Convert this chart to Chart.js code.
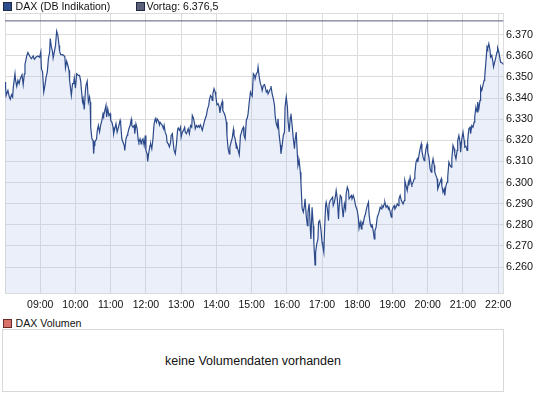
<!DOCTYPE html>
<html><head><meta charset="utf-8">
<script src="https://cdn.jsdelivr.net/npm/chart.js@4.4.0/dist/chart.umd.min.js"></script>
<style>
html,body{margin:0;padding:0;background:#fff;}
body{width:545px;height:398px;position:relative;overflow:hidden;font-family:"Liberation Sans",Arial,sans-serif;color:#111;}
#wrap{position:absolute;left:0;top:0;width:545px;height:316px;}
.leg{position:absolute;font-size:10.6px;line-height:12px;white-space:nowrap;color:#111;}
.sq{position:absolute;width:9px;height:9px;box-sizing:border-box;border:1px solid #1e2a44;}
#volbox{position:absolute;left:2px;top:329px;width:502px;height:63px;box-sizing:border-box;border:1px solid #d8d8d8;display:flex;align-items:center;justify-content:center;}
#volmsg{font-size:12.5px;color:#111;}
</style></head>
<body>
<div id="wrap"><canvas id="c" width="545" height="316"></canvas></div>
<div class="sq" style="left:3px;top:2px;background:#2e4d8e;"></div>
<div class="leg" id="legDax" style="left:15.5px;top:0px;"></div>
<div class="sq" style="left:135.5px;top:2px;background:#5c6079;"></div>
<div class="leg" id="legPrev" style="left:146.5px;top:0px;"></div>
<div class="sq" style="left:3px;top:319px;background:#d9716b;border-color:#6a2a26;"></div>
<div class="leg" id="legVol" style="left:15.5px;top:317px;"></div>
<div id="volbox"><span id="volmsg"></span></div>
<script>
const seriesName = 'DAX (DB Indikation)';
const volumeName = 'DAX Volumen';
const volumeMessage = 'keine Volumendaten vorhanden';
const previousClose = 6376.5;
const xTickLabels = ['09:00','10:00','11:00','12:00','13:00','14:00','15:00','16:00','17:00','18:00','19:00','20:00','21:00','22:00'];
const yTickValues = [6260,6270,6280,6290,6300,6310,6320,6330,6340,6350,6360,6370];
const yMin = 6247.5, yMax = 6380;

// time of each quote, minutes after midnight
const minutes = [
480,481,482,485,487,489,491,493,494,497,498,500,502,504,506,509,511,513,514,517,519,522,525,528,530,533,536,539,541,542,
544,546,548,550,552,554,556,557,559,561,562,564,566,568,570,572,573,575,577,580,582,583,585,587,589,590,592,593,595,597,
598,600,602,605,607,609,610,612,613,615,617,618,620,622,624,625,626,628,630,631,632,633,636,637,639,641,643,645,647,648,
650,652,653,655,657,659,660,662,664,665,667,669,671,672,674,676,677,679,681,683,684,686,688,689,691,693,695,696,698,700,
701,703,705,707,708,710,712,713,715,717,719,720,722,723,725,727,728,730,732,733,734,736,738,739,741,743,744,746,748,750,
751,753,755,756,758,760,762,763,765,767,768,770,772,774,775,777,779,780,782,784,786,787,789,791,792,794,796,798,799,801,
803,804,806,808,810,811,813,815,816,818,820,822,823,825,827,828,830,832,833,834,836,838,839,841,843,845,846,848,850,851,
853,855,857,858,860,862,863,865,867,869,870,872,874,875,877,879,881,882,884,886,887,889,891,893,894,896,898,899,
901,903,905,906,908,910,911,913,915,917,918,920,922,923,925,927,928,930,932,933,935,937,939,940,942,944,945,947,949,950,
952,954,956,957,959,961,962,964,966,967,969,971,973,974,976,978,979,981,983,984,986,988,990,991,993,995,996,998,1000,1001,
1003,1005,1006,1008,1009,1011,1013,1014,1016,1018,1020,1021,1023,1024,1026,1027,1029,1031,1032,1034,1036,1038,1039,1041,1043,1044,1046,1048,1049,1051,
1053,1054,1056,1058,1060,1061,1063,1065,1066,1068,1070,1071,1073,1075,1077,1078,1080,1082,1083,1085,1087,1088,1090,1092,1094,1095,1097,1099,1100,1102,
1104,1105,1107,1109,1110,1112,1114,1116,1117,1119,1121,1122,1124,1126,1127,1129,1131,1133,1134,1136,1138,1139,1141,1143,1144,1146,1148,1150,1151,1153,
1155,1156,1158,1160,1161,1163,1165,1167,1168,1170,1172,1173,1175,1177,1178,1180,1182,1183,1185,1187,1189,1190,1192,1194,1195,1197,1199,1200,1202,1204,
1206,1207,1209,1211,1212,1214,1216,1217,1219,1221,1223,1224,1226,1228,1229,1231,1233,1234,1236,1238,1240,1241,1243,1245,1246,1248,1250,1251,1253,1255,
1256,1258,1260,1262,1263,1265,1267,1268,1270,1272,1273,1275,1277,1279,1280,1282,1284,1285,1287,1289,1290,1292,1294,1296,1297,1299,1301,1302,1304,1306,
1307,1309,1311,1312,1314,1316,1318,1319,1321,1323,1324,1326,1328,1329
];
// DAX quotes
const prices = [
6347.6,6345.2,6341.2,6343.6,6340.9,6339.4,6341.6,6340.5,6344.7,6351.5,6348.4,6345.5,6348.4,6346.8,6349.1,6351.0,6346.3,6351.5,6355.8,6359.9,6361.5,6359.9,6358.6,6359.9,6358.3,6359.4,6359.9,6359.3,6361.8,6353.9,
6352.3,6342.8,6346.0,6349.9,6352.3,6358.9,6361.5,6368.1,6364.2,6361.8,6358.9,6361.8,6364.9,6371.7,6369.7,6364.9,6362.1,6360.5,6360.5,6360.2,6359.4,6354.2,6357.4,6355.5,6353.1,6348.4,6343.6,6341.2,6346.8,6346.8,
6349.5,6344.7,6351.5,6350.7,6350.7,6347.9,6344.4,6338.4,6339.7,6334.6,6343.6,6346.0,6347.9,6338.1,6340.5,6338.1,6326.2,6320.7,6319.9,6313.6,6317.6,6319.1,6320.7,6324.2,6327.0,6323.9,6327.3,6329.4,6332.6,6331.8,
6334.1,6336.5,6331.0,6334.9,6331.8,6332.6,6329.4,6328.6,6326.2,6323.1,6325.5,6327.8,6323.9,6323.9,6327.0,6329.4,6327.8,6320.7,6319.1,6317.6,6315.2,6320.7,6322.3,6323.1,6325.5,6327.0,6329.9,6327.0,6326.2,6327.0,
6323.1,6327.8,6325.5,6319.9,6319.1,6320.7,6318.3,6319.9,6320.7,6317.6,6322.3,6315.2,6313.6,6310.0,6314.4,6317.6,6318.3,6316.0,6320.7,6324.7,6327.8,6330.2,6328.6,6330.2,6329.4,6327.3,6328.6,6327.8,6327.0,6325.5,
6327.0,6323.6,6322.3,6319.1,6318.3,6316.8,6319.1,6322.3,6323.1,6317.6,6315.2,6313.6,6318.3,6325.1,6325.8,6324.7,6326.2,6321.5,6323.9,6324.7,6326.2,6323.9,6323.1,6324.7,6325.5,6323.1,6327.0,6326.2,6331.8,6330.5,
6327.8,6325.5,6327.0,6326.2,6327.0,6326.2,6327.3,6325.5,6324.7,6327.0,6329.4,6331.0,6331.8,6334.9,6336.5,6338.9,6341.2,6340.5,6338.9,6342.0,6344.4,6342.8,6341.2,6336.8,6337.3,6335.7,6333.0,6336.5,6338.4,6334.1,
6333.0,6331.5,6328.6,6322.3,6316.0,6313.6,6316.8,6319.1,6321.0,6325.1,6322.3,6320.7,6316.3,6317.2,6315.2,6313.1,6322.3,6323.1,6325.1,6326.2,6322.3,6320.7,6329.4,6331.0,6332.6,6338.1,6342.8,6342.0,
6340.9,6351.5,6350.7,6349.1,6351.5,6352.3,6354.7,6349.9,6346.8,6345.2,6343.6,6346.0,6346.3,6345.5,6342.8,6343.6,6342.0,6343.1,6344.4,6345.7,6342.0,6339.7,6336.5,6331.8,6327.8,6326.2,6330.2,6322.3,6317.6,6313.6,
6317.6,6322.3,6323.9,6335.7,6340.5,6335.7,6329.4,6323.9,6331.0,6332.6,6327.0,6320.7,6316.0,6319.9,6323.9,6312.8,6308.1,6310.4,6304.9,6300.2,6287.9,6286.0,6289.1,6292.3,6284.4,6279.6,6286.0,6289.9,6278.1,6273.3,
6288.3,6279.6,6271.7,6261.0,6267.0,6271.0,6273.3,6281.2,6282.0,6278.1,6271.7,6270.2,6267.0,6275.7,6289.1,6290.7,6287.5,6282.0,6289.9,6291.5,6292.3,6293.1,6289.1,6290.7,6293.9,6296.2,6292.3,6282.8,6288.3,6293.9,
6293.1,6289.1,6283.6,6289.9,6287.5,6294.6,6297.8,6296.2,6292.3,6293.1,6293.9,6292.3,6293.9,6292.3,6289.1,6288.3,6286.7,6282.8,6278.4,6281.2,6278.1,6281.2,6280.4,6283.6,6285.2,6286.7,6289.1,6290.7,6285.2,6280.4,
6278.9,6280.4,6277.3,6273.3,6277.3,6278.9,6283.6,6285.2,6286.0,6288.3,6287.5,6289.1,6288.3,6289.9,6290.7,6288.3,6289.1,6287.5,6288.3,6286.0,6283.6,6286.7,6288.3,6289.1,6287.5,6288.3,6289.9,6289.1,6292.3,6293.9,
6291.5,6291.5,6289.9,6291.5,6301.0,6298.6,6296.2,6300.2,6298.6,6302.5,6299.4,6298.9,6300.2,6301.8,6304.1,6309.7,6311.2,6309.7,6312.8,6316.0,6318.3,6315.2,6312.0,6310.4,6312.0,6316.0,6318.3,6314.4,6312.0,6306.5,
6304.9,6308.1,6311.2,6308.1,6304.9,6303.3,6301.8,6297.0,6298.6,6300.2,6301.8,6298.6,6295.4,6297.0,6293.9,6298.6,6300.2,6302.5,6309.7,6308.1,6307.3,6311.2,6317.6,6316.0,6313.6,6311.2,6315.2,6319.9,6322.3,6319.1,
6314.4,6320.7,6323.9,6319.9,6316.8,6317.2,6315.2,6319.9,6325.5,6326.2,6323.1,6327.0,6326.2,6328.6,6331.0,6335.7,6333.4,6338.1,6334.9,6338.9,6345.2,6343.6,6346.0,6348.4,6349.9,6357.0,6364.2,6363.4,6365.7,6362.6,
6359.4,6360.2,6357.0,6354.7,6357.0,6359.4,6361.8,6363.7,6361.8,6358.6,6357.0,6356.7,6356.3,6355.8
];

const toMin = s => { const p = s.split(':').map(Number); return p[0]*60 + p[1]; };
const fmtTime = v => String(Math.floor(v/60)).padStart(2,'0') + ':' + String(v%60).padStart(2,'0');
const fmtDE = (v, dec) => {
  const parts = v.toFixed(dec).split('.');
  const int = parts[0].replace(/\B(?=(\d{3})+(?!\d))/g, '.');
  return parts.length > 1 ? int + ',' + parts[1] : int;
};

document.getElementById('legDax').textContent = seriesName;
document.getElementById('legPrev').textContent = 'Vortag: ' + fmtDE(previousClose, 1);
document.getElementById('legVol').textContent = volumeName;
document.getElementById('volmsg').textContent = volumeMessage;

const tStart = minutes[0], tEnd = minutes[minutes.length - 1];
const gridColor = '#dcdcdc';
const tickFont = {family: 'Liberation Sans', size: 10.5};

new Chart(document.getElementById('c'), {
  type: 'line',
  data: {
    datasets: [
      {
        label: seriesName,
        data: minutes.map((m, i) => ({x: m, y: prices[i]})),
        borderColor: '#2c4a8a',
        borderWidth: 1.2,
        backgroundColor: 'rgba(175,192,235,0.26)',
        fill: 'start',
        pointRadius: 0,
        tension: 0,
        order: 1
      },
      {
        label: 'Vortag',
        data: [{x: tStart, y: previousClose}, {x: tEnd, y: previousClose}],
        borderColor: '#575c7b',
        borderWidth: 1,
        pointRadius: 0,
        fill: false,
        order: 0
      }
    ]
  },
  options: {
    responsive: false,
    animation: false,
    devicePixelRatio: 1,
    events: [],
    layout: {padding: {left: 2.5, top: 13.5, right: 0, bottom: 0}},
    plugins: {legend: {display: false}, tooltip: {enabled: false}},
    scales: {
      x: {
        type: 'linear',
        min: tStart,
        max: tEnd,
        afterBuildTicks: s => { s.ticks = [tStart].concat(xTickLabels.map(toMin)).map(v => ({value: v})); },
        afterFit: s => { s.height = 22.5; },
        grid: {color: gridColor, drawTicks: false},
        border: {color: gridColor},
        ticks: {
          autoSkip: false, maxRotation: 0, minRotation: 0, padding: 5, color: '#111', font: tickFont,
          callback: v => (v === tStart ? '' : fmtTime(v))
        }
      },
      y: {
        position: 'right',
        min: yMin,
        max: yMax,
        afterBuildTicks: s => { s.ticks = yTickValues.concat([yMax]).map(v => ({value: v})); },
        afterFit: s => { s.width = 41.5; },
        grid: {color: gridColor, drawTicks: false},
        border: {color: gridColor},
        ticks: {
          autoSkip: false, padding: 2.5, color: '#111', font: {family: 'Liberation Sans', size: 10.8},
          callback: v => (yTickValues.includes(v) ? fmtDE(v, 0) : '')
        }
      }
    }
  }
});
</script>
</body></html>
